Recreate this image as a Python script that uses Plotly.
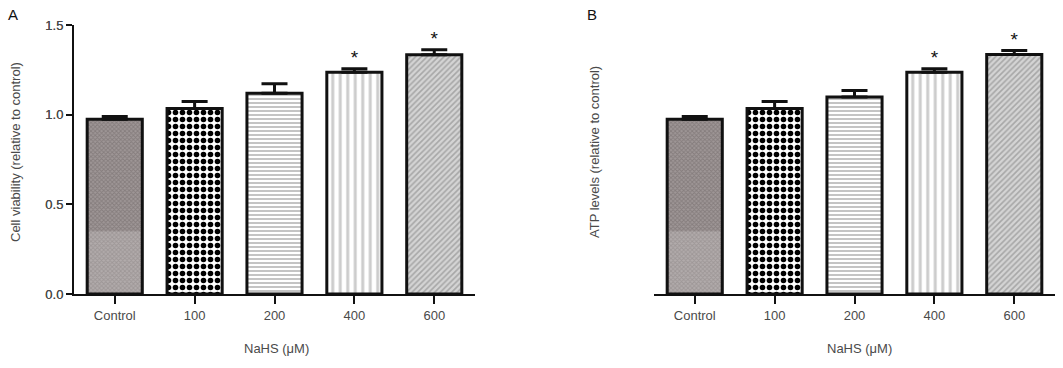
import plotly.graph_objects as go

categories = ["Control", "100", "200", "400", "600"]
viability = [0.974, 1.035, 1.120, 1.237, 1.334]
viability_err = [0.016, 0.039, 0.052, 0.019, 0.028]
atp = [0.974, 1.035, 1.098, 1.237, 1.336]
atp_err = [0.016, 0.039, 0.037, 0.019, 0.022]
significant = [False, False, False, True, True]
y_ticks = [0, 0.5, 1.0, 1.5]

W, H = 1063, 368
FONT = "Liberation Sans, Arial, sans-serif"
TXT = "#4a4a4a"
BAR_W = 0.69

patterns = [
    dict(shape="x", size=3, solidity=0.5, fgcolor="#6a6262", bgcolor="#9f9797"),
    dict(shape=".", size=7, solidity=0.5, fgcolor="#000000", bgcolor="#ffffff", fgopacity=1),
    dict(shape="-", size=4, solidity=0.5, fgcolor="#8a8a8a", bgcolor="#ffffff"),
    dict(shape="|", size=7.5, solidity=0.4, fgcolor="#9a9a9a", bgcolor="#ffffff"),
    dict(shape="/", size=4, solidity=0.4, fgcolor="#7a7a7a", bgcolor="#d4d4d4"),
]

def px_x(p):
    return p / W

def px_y(p):
    return 1 - p / H

fig = go.Figure()
panels = [
    ("x", "y", viability, viability_err),
    ("x2", "y2", atp, atp_err),
]
for xa, ya, vals, errs in panels:
    for i, c in enumerate(categories):
        fig.add_trace(go.Bar(
            x=[c], y=[vals[i]], xaxis=xa, yaxis=ya, width=BAR_W,
            marker=dict(color=patterns[i]["bgcolor"], line=dict(color="#111", width=3),
                        pattern=patterns[i]),
            error_y=dict(type="data", symmetric=False, array=[errs[i]], arrayminus=[0],
                         color="#111", thickness=3, width=13),
            showlegend=False, hoverinfo="skip",
        ))
    sx = [c for c, s in zip(categories, significant) if s]
    sy = [v + e for v, e, s in zip(vals, errs, significant) if s]
    fig.add_trace(go.Scatter(
        x=sx, y=sy, xaxis=xa, yaxis=ya, mode="text", text=["*"] * len(sx),
        textposition="top center", textfont=dict(family=FONT, size=19, color="#111"),
        showlegend=False, hoverinfo="skip",
    ))

ydom = [px_y(294), px_y(25)]
axis_common = dict(showline=True, linecolor="#111", linewidth=2, ticks="outside",
                   tickcolor="#111", tickwidth=2, showgrid=False, zeroline=False,
                   tickfont=dict(family=FONT, size=13, color=TXT), automargin=False)
fig.update_layout(
    width=W, height=H, margin=dict(l=0, r=0, t=0, b=0),
    plot_bgcolor="white", paper_bgcolor="white", barmode="overlay",
    xaxis=dict(domain=[px_x(74), px_x(475)], range=[-0.51, 4.51], ticklen=8, **axis_common),
    xaxis2=dict(domain=[px_x(654), px_x(1055)], range=[-0.51, 4.51], ticklen=8, **axis_common),
    yaxis=dict(domain=ydom, range=[0, 1.5], tickvals=y_ticks, tickformat=".1f", ticklen=6, **axis_common),
    yaxis2=dict(domain=ydom, range=[0, 1.5], tickvals=y_ticks, tickformat=".1f", ticklen=6, **axis_common),
)

# lighter lower portion of Control bar (image shading)
for xa, ya in [("x", "y"), ("x2", "y2")]:
    fig.add_shape(type="rect", xref=xa, yref=ya, x0=-BAR_W / 2 + 0.025, x1=BAR_W / 2 - 0.025,
                  y0=0.01, y1=0.35, fillcolor="white", opacity=0.2, line_width=0, layer="above")

ann = [
    dict(text="A", x=px_x(13), y=px_y(14), font=dict(size=15, color="#111")),
    dict(text="B", x=px_x(592), y=px_y(14), font=dict(size=15, color="#111")),
    dict(text="Cell viability (relative to control)", x=px_x(15), y=px_y(152), textangle=-90,
         font=dict(size=13, color=TXT)),
    dict(text="ATP levels (relative to control)", x=px_x(594), y=px_y(152), textangle=-90,
         font=dict(size=13, color=TXT)),
    dict(text="NaHS (μM)", x=px_x(276), y=px_y(348), font=dict(size=13, color=TXT)),
    dict(text="NaHS (μM)", x=px_x(859), y=px_y(348), font=dict(size=13, color=TXT)),
]
for a in ann:
    a["font"]["family"] = FONT
    fig.add_annotation(xref="paper", yref="paper", showarrow=False, xanchor="center",
                       yanchor="middle", **a)

fig.write_html("out.html", config={"displayModeBar": False},
               post_script="document.body.style.margin='0';")
